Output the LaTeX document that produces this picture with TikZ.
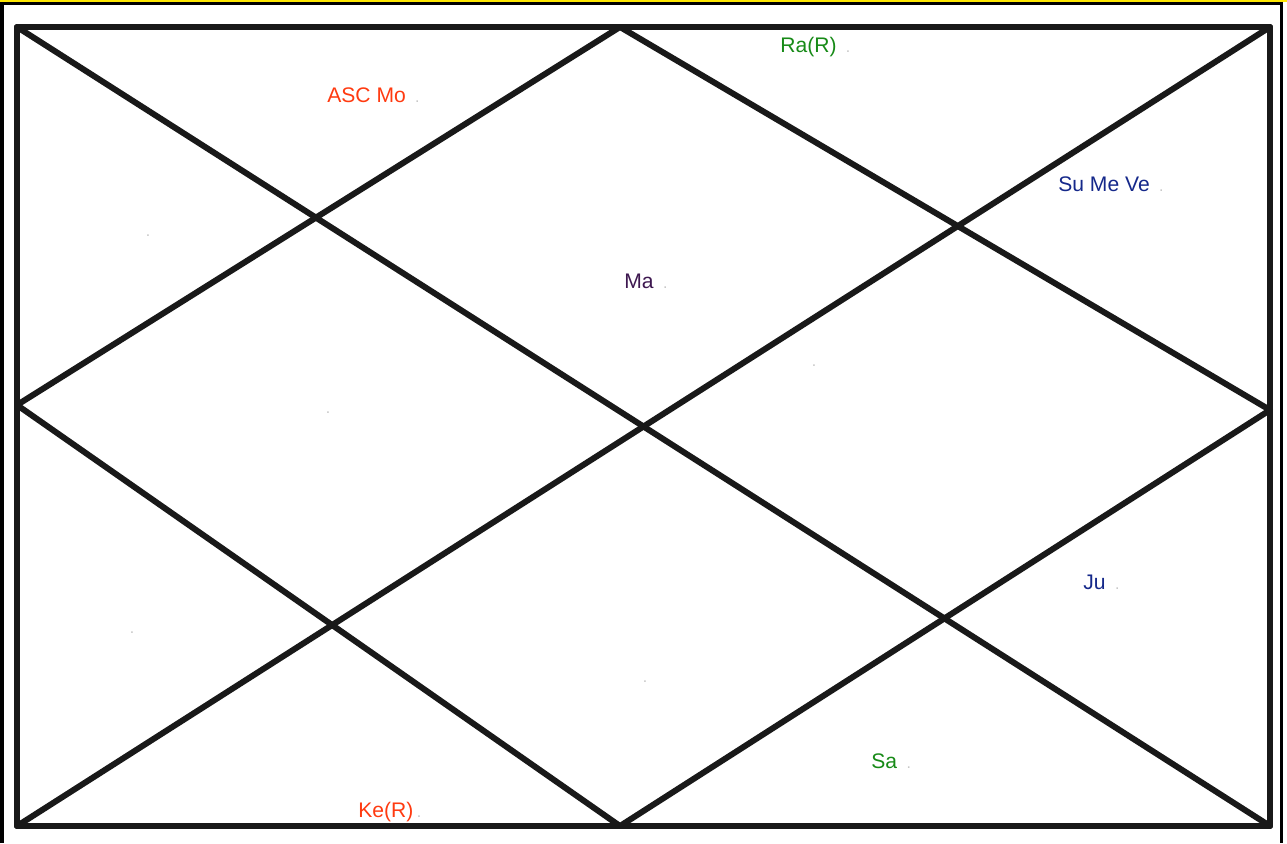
\documentclass[tikz,border=0pt]{standalone}
\usepackage{fontspec}
\setmainfont{Liberation Sans}
\definecolor{rosso}{HTML}{FF3A10}
\definecolor{verde}{HTML}{178A17}
\definecolor{blu}{HTML}{15288A}
\definecolor{viola}{HTML}{3E1850}
\begin{document}
\begin{tikzpicture}[x=0.02cm, y=-0.02cm,
			riga/.style={line width=3.4pt, line cap=round, line join=round, black!90},
			cornice/.style={line width=2pt, black},
			casa/.style={anchor=base west, inner sep=0pt, font=\fontsize{12}{14}\selectfont},
			punto/.style={inner sep=0pt, text=gray!45, font=\small},
			]
			\newcommand{\pt}{\,{\color{gray!45}\small .}}
			\useasboundingbox (0,0) rectangle (1287,843);
			
			%% ── cornice esterna ────────────────────────────────
			\draw[yellow!90!orange, line width=1.2pt](0,1)--(1287,1);
			\draw[cornice](2,843)--(2,3.5)--(1281.5,3.5)--(1281.5,843);
			
			%% ── carta: rettangolo, diagonali, rombo ────────────
			\coordinate (NO) at (17,27);
			\coordinate (NE) at (1270,27);
			\coordinate (SE) at (1270,826);
			\coordinate (SO) at (17,826);
			\coordinate (N) at (620,27);
			\coordinate (E) at (1270,410);
			\coordinate (S) at (620,826);
			\coordinate (O) at (17,405);
			\draw[riga](NO)rectangle(SE);
			\draw[riga](NO)--(SE);
			\draw[riga](NE)--(SO);
			\draw[riga](N)--(E)--(S)--(O)--cycle;
			
			%% ── pianeti nelle case ─────────────────────────────
			\node[casa, text=rosso](asc)at(327,102){ASC Mo \pt};
			\node[casa, text=verde](ra)at(780,52){Ra(R) \pt};
			\node[casa, text=blu](su)at(1058,191){Su Me Ve \pt};
			\node[casa, text=viola](ma)at(624,288){Ma \pt};
			\node[casa, text=blu](ju)at(1083,589){Ju \pt};
			\node[casa, text=verde](sa)at(871,768){Sa \pt};
			\node[casa, text=rosso](ke)at(358,817){Ke(R)\pt};
			
			%% ── case vuote ─────────────────────────────────────
			\node[punto](c2)at(148,236){.};
			\node[punto](c4)at(328,413){.};
			\node[punto](c11)at(814,366){.};
			\node[punto](c6)at(132,633){.};
			\node[punto](c8)at(645,682){.};
			
\end{tikzpicture}
\end{document}
